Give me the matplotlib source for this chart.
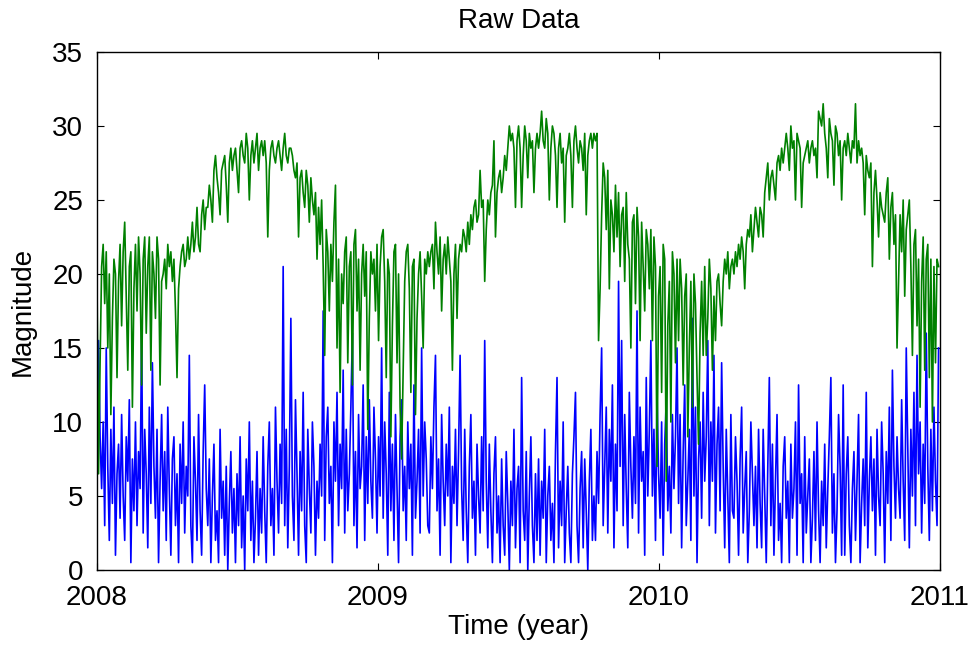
import matplotlib
matplotlib.use("Agg")
import matplotlib.pyplot as plt
import numpy as np
import pandas as pd

plt.rcParams["font.family"] = ["Liberation Sans", "DejaVu Sans"]

# one sample every second day, 2008-01-01 .. 2010-12-30
dates = pd.date_range("2008-01-01", "2010-12-31", freq="2D")

green_vals = [
    19.5, 6.5, 14.0, 20.5, 22.0, 18.0, 21.5, 15.0, 20.0, 10.5, 17.0, 21.0, 20.0, 13.0, 19.5, 22.0, 16.5, 21.5,
    23.5, 18.5, 13.5, 20.5, 21.5, 11.0, 19.0, 22.0, 17.5, 22.5, 20.0, 12.5, 21.0, 22.5, 16.0, 20.5, 22.5, 13.5,
    21.5, 20.0, 17.0, 22.5, 21.0, 12.5, 19.5, 20.0, 21.0, 19.0, 22.0, 20.5, 21.5, 19.5, 21.0, 17.5, 13.0, 19.0,
    20.5, 21.5, 22.0, 20.5, 21.0, 22.5, 21.0, 22.0, 23.5, 21.5, 22.5, 24.5, 22.0, 21.5, 24.0, 25.0, 23.0, 24.5,
    24.5, 26.0, 25.0, 23.5, 27.0, 28.0, 26.5, 25.5, 24.0, 27.0, 27.5, 28.0, 26.0, 23.5, 27.5, 28.5, 27.0, 28.0,
    28.5, 27.0, 25.5, 28.5, 29.0, 28.0, 27.5, 29.5, 28.5, 25.0, 28.0, 29.0, 27.5, 28.5, 29.5, 27.0, 28.5, 29.0,
    28.0, 29.0, 27.5, 22.5, 27.0, 28.5, 29.0, 28.0, 27.5, 28.5, 29.0, 28.0, 27.0, 28.5, 29.5, 28.0, 27.5, 28.5,
    28.5, 28.0, 27.0, 26.5, 27.5, 22.5, 26.5, 27.0, 25.5, 24.5, 27.0, 26.0, 23.5, 26.5, 25.0, 24.0, 25.5, 21.0,
    24.5, 22.0, 25.0, 20.5, 14.5, 23.0, 21.5, 17.5, 22.0, 19.5, 23.5, 26.0, 15.0, 21.0, 12.0, 20.0, 18.0, 21.5,
    22.5, 14.0, 20.5, 21.5, 12.5, 22.0, 23.0, 17.5, 21.0, 13.5, 20.0, 22.0, 18.5, 21.5, 9.5, 17.0, 21.5, 20.0,
    # 2009
    21.0, 17.5, 22.0, 15.5, 20.5, 22.5, 23.0, 19.5, 13.0, 21.0, 20.0, 9.0, 16.5, 21.5, 22.0, 14.0, 20.0, 11.0,
    7.5, 13.5, 19.5, 21.5, 22.0, 19.0, 12.0, 20.5, 21.0, 10.5, 17.0, 20.0, 21.5, 18.5, 15.0, 21.0, 20.0, 21.5,
    20.5, 21.5, 22.0, 19.0, 23.5, 21.5, 20.0, 22.5, 17.5, 21.0, 22.0, 20.0, 22.5, 21.0, 19.5, 13.5, 20.0, 22.0,
    17.0, 21.0, 22.0, 21.5, 23.0, 22.5, 21.5, 23.5, 22.0, 24.0, 23.0, 24.5, 25.0, 23.5, 24.0, 27.0, 24.5, 25.0,
    19.5, 23.0, 25.0, 24.0, 25.5, 26.0, 29.0, 22.5, 25.5, 26.5, 27.0, 25.5, 26.5, 28.0, 27.0, 28.5, 30.0, 29.0,
    29.5, 28.5, 24.5, 29.0, 30.0, 28.5, 24.5, 28.0, 30.0, 29.0, 26.5, 29.5, 28.5, 29.0, 25.5, 28.5, 29.5, 28.5,
    29.5, 31.0, 29.0, 28.5, 30.5, 29.5, 25.0, 28.5, 30.0, 29.5, 28.0, 24.5, 28.5, 29.5, 27.5, 28.5, 23.5, 28.0,
    28.5, 29.5, 28.0, 24.5, 29.0, 30.0, 28.5, 27.5, 29.0, 28.5, 27.0, 29.5, 24.0, 28.0, 29.0, 29.5, 28.5, 29.5,
    29.0, 29.5, 15.5, 19.0, 24.0, 27.5, 26.5, 23.0, 27.0, 19.0, 25.0, 24.0, 21.5, 26.0, 22.5, 25.5, 20.5, 24.0,
    24.5, 19.5, 25.5, 22.0, 21.0, 15.0, 23.5, 24.0, 18.0, 24.5, 22.5, 15.5, 23.5, 20.5, 17.5, 23.0, 22.0, 19.0,
    # 2010
    23.0, 15.5, 22.5, 20.5, 7.0, 18.5, 20.5, 12.0, 22.0, 21.0, 6.0, 16.5, 19.5, 10.0, 21.5, 20.0, 14.0, 21.0,
    15.5, 21.0, 19.0, 12.5, 18.5, 20.0, 9.0, 15.0, 19.5, 11.0, 20.0, 18.0, 13.0, 8.5, 16.0, 19.5, 14.5, 20.5,
    14.5, 17.0, 21.0, 19.0, 13.5, 18.5, 15.5, 19.5, 20.0, 18.0, 16.5, 19.5, 21.0, 20.0, 21.5, 19.0, 20.5, 21.0,
    20.0, 21.5, 20.5, 22.0, 21.0, 22.5, 21.5, 19.0, 22.0, 23.0, 22.5, 24.0, 21.5, 23.0, 24.5, 23.5, 22.5, 24.5,
    24.0, 22.5, 25.5, 26.5, 27.5, 25.0, 26.5, 27.0, 26.0, 25.0, 27.5, 28.0, 27.0, 28.5, 27.5, 28.5, 29.5, 28.5,
    27.0, 30.0, 28.5, 29.0, 25.0, 29.5, 29.0, 28.5, 24.5, 27.5, 28.0, 28.5, 29.0, 27.5, 28.5, 29.0, 28.0, 28.5,
    26.5, 31.0, 30.5, 30.0, 31.5, 29.5, 28.5, 26.5, 30.5, 29.5, 29.0, 26.0, 30.0, 29.5, 28.0, 29.0, 25.0, 28.5,
    29.0, 28.0, 29.5, 28.5, 27.5, 29.0, 28.5, 31.5, 27.5, 29.0, 28.0, 28.5, 27.5, 24.0, 28.0, 27.0, 26.5, 27.5,
    20.5, 25.5, 27.0, 25.0, 22.5, 25.5, 24.5, 24.0, 23.5, 25.5, 26.5, 21.0, 24.5, 25.5, 22.0, 24.0, 15.0, 19.5,
    24.0, 21.5, 25.0, 18.5, 23.0, 24.0, 25.0, 20.5, 14.5, 22.0, 23.0, 16.5, 21.0, 11.0, 19.5, 22.5, 13.5, 21.0,
    22.0, 13.0, 21.0, 10.0, 20.5, 14.0, 21.0, 20.5,
]

blue_vals = [
    8.0, 15.5, 9.0, 5.5, 10.0, 3.0, 15.0, 7.0, 2.0, 9.5, 4.5, 11.0, 1.0, 6.5, 8.5, 3.5, 10.5, 5.0,
    2.0, 9.0, 6.0, 11.5, 0.5, 7.5, 4.0, 10.0, 3.0, 8.0, 5.5, 16.0, 2.5, 9.5, 6.5, 1.5, 11.0, 4.5,
    14.0, 7.0, 3.5, 9.5, 0.5, 6.0, 10.5, 4.0, 8.0, 2.0, 11.0, 5.5, 1.0, 7.5, 9.0, 3.0, 6.5, 0.5,
    8.5, 4.5, 10.0, 2.5, 7.0, 5.0, 14.5, 3.0, 0.5, 9.0, 6.0, 2.0, 10.5, 4.0, 1.0, 8.0, 12.5, 5.5,
    3.0, 7.5, 0.5, 5.0, 8.5, 2.0, 4.0, 0.5, 9.5, 3.5, 6.0, 1.0, 7.0, 0.0, 4.5, 8.0, 2.5, 5.5,
    0.5, 6.5, 3.0, 9.0, 1.5, 5.0, 0.0, 7.5, 4.0, 10.0, 2.0, 6.0, 0.5, 3.5, 8.0, 1.0, 5.5, 2.5,
    9.0, 4.0, 0.5, 7.0, 10.0, 3.0, 5.5, 1.0, 11.0, 6.0, 2.5, 8.5, 4.5, 20.5, 3.0, 9.5, 1.5, 7.0,
    17.0, 5.0, 2.0, 11.5, 6.5, 1.0, 8.0, 4.0, 12.0, 3.0, 0.5, 9.5, 5.5, 2.5, 10.0, 7.0, 1.0, 6.0,
    3.5, 8.5, 5.0, 17.5, 2.0, 9.0, 11.0, 4.5, 7.0, 0.5, 10.0, 6.0, 12.0, 3.0, 8.5, 5.5, 13.5, 2.5,
    9.5, 4.0, 6.5, 11.0, 16.0, 3.0, 8.0, 1.5, 10.5, 5.5, 7.0, 12.5, 2.0, 9.0, 4.5, 11.5, 6.0, 3.5,
    # 2009
    11.0, 7.5, 2.5, 9.0, 5.0, 15.0, 3.5, 10.0, 6.5, 1.0, 12.0, 4.0, 8.5, 2.0, 10.5, 5.5, 0.5, 9.0,
    11.5, 4.0, 7.0, 2.0, 10.0, 5.5, 8.5, 1.0, 12.5, 3.5, 6.0, 9.5, 2.5, 15.0, 5.0, 10.0, 7.5, 3.0,
    2.5, 9.0, 5.5, 11.0, 14.5, 4.0, 7.5, 1.0, 10.5, 6.0, 3.0, 8.5, 5.0, 11.0, 0.5, 7.0, 4.5, 9.5,
    3.0, 8.0, 14.5, 5.5, 2.0, 9.5, 4.0, 0.5, 7.0, 10.5, 3.5, 6.0, 1.0, 8.5, 5.0, 2.5, 9.0, 4.0,
    15.5, 6.0, 1.5, 8.5, 4.0, 0.5, 6.5, 9.0, 2.5, 5.0, 0.5, 7.5, 3.0, 1.0, 8.0, 4.5, 0.0, 6.0,
    3.0, 9.5, 1.5, 5.5, 7.0, 0.5, 13.0, 4.0, 2.0, 8.0, 0.0, 5.0, 9.0, 3.0, 0.5, 6.5, 2.0, 7.5,
    1.0, 6.0, 3.5, 9.5, 0.5, 5.0, 7.0, 2.0, 4.5, 0.5, 8.0, 13.0, 1.5, 6.0, 3.0, 10.0, 0.5, 4.0,
    7.0, 2.5, 0.5, 6.5, 9.0, 12.0, 3.0, 0.5, 5.5, 8.0, 1.5, 7.5, 4.0, 0.0, 6.0, 9.5, 2.0, 5.0,
    2.0, 8.0, 4.5, 10.5, 15.0, 3.0, 7.0, 11.0, 2.5, 9.5, 6.0, 12.5, 1.5, 8.5, 4.0, 19.5, 7.0, 15.5,
    3.0, 10.5, 5.5, 1.5, 12.0, 7.0, 3.5, 9.0, 4.5, 17.5, 2.5, 11.0, 6.0, 8.0, 1.0, 13.0, 5.0, 9.5,
    # 2010
    15.5, 5.0, 9.5, 2.0, 12.0, 6.5, 3.5, 10.0, 1.0, 8.5, 11.5, 4.0, 7.0, 2.5, 10.5, 5.5, 9.0, 15.0,
    4.5, 10.5, 1.5, 8.0, 12.5, 3.0, 6.0, 9.5, 2.0, 17.0, 5.0, 11.0, 0.5, 7.5, 10.0, 3.5, 12.0, 6.0,
    9.0, 15.5, 3.0, 10.0, 6.0, 14.5, 2.5, 8.5, 11.0, 4.0, 14.0, 7.0, 1.5, 9.5, 5.0, 0.5, 10.5, 4.0,
    3.5, 9.0, 6.0, 1.0, 7.5, 11.0, 2.5, 5.5, 8.0, 0.5, 4.0, 10.0, 6.5, 3.0, 7.0, 1.5, 9.5, 4.5,
    1.5, 9.5, 5.0, 0.5, 7.0, 13.0, 3.0, 8.5, 1.0, 6.0, 10.5, 2.0, 4.5, 0.5, 7.0, 9.0, 3.5, 6.0,
    0.5, 8.5, 3.5, 5.5, 10.0, 1.0, 12.5, 4.5, 6.5, 0.5, 9.0, 2.5, 5.0, 7.5, 0.5, 3.5, 8.0, 2.0,
    10.0, 4.0, 0.5, 6.0, 3.0, 8.5, 1.5, 5.5, 9.0, 13.0, 2.5, 6.5, 0.5, 4.0, 10.5, 7.0, 1.0, 12.5,
    1.0, 6.5, 9.0, 3.0, 0.5, 5.5, 8.0, 2.0, 6.0, 10.5, 0.5, 4.5, 7.5, 3.0, 12.0, 1.5, 6.0, 9.0,
    4.0, 7.5, 1.0, 9.5, 5.0, 3.0, 10.0, 6.5, 0.5, 8.0, 4.5, 11.0, 2.0, 13.5, 7.0, 3.5, 9.0, 5.5,
    3.5, 11.5, 6.0, 2.0, 15.0, 8.0, 1.5, 9.5, 5.0, 12.0, 3.0, 14.5, 6.5, 10.0, 2.5, 8.5, 4.5, 16.0,
    7.0, 2.0, 9.5, 4.0, 11.0, 6.0, 3.0, 15.0,
]

year_ticks = [2008, 2009, 2010, 2011]

# decimal year for each sample
t = 2008 + (dates - pd.Timestamp("2008-01-01")).days.to_numpy() / 365.25

fig = plt.figure(figsize=(9.74, 6.48), dpi=100)
ax = fig.add_axes([0.0996, 0.1204, 0.8654, 0.7994])

ax.plot(t, blue_vals, color="#0000ff", lw=1.2)
ax.plot(t, green_vals, color="#008000", lw=1.2)

ax.set_xlim(2008, 2011)
ax.set_ylim(0, 35)
ax.set_xticks(year_ticks)
ax.set_xticklabels([str(y) for y in year_ticks])
ax.set_yticks(np.arange(0, 36, 5))

ax.tick_params(direction="in", top=True, right=True, length=5, width=0.8,
               labelsize=20)
ax.tick_params(axis="x", pad=11)
ax.tick_params(axis="y", pad=10)
for s in ax.spines.values():
    s.set_linewidth(1.0)

ax.set_title("Raw Data", fontsize=20, pad=17)
ax.set_xlabel("Time (year)", fontsize=20, labelpad=2)
ax.set_ylabel("Magnitude", fontsize=20, labelpad=12)

fig.savefig("out.png", dpi=100)
